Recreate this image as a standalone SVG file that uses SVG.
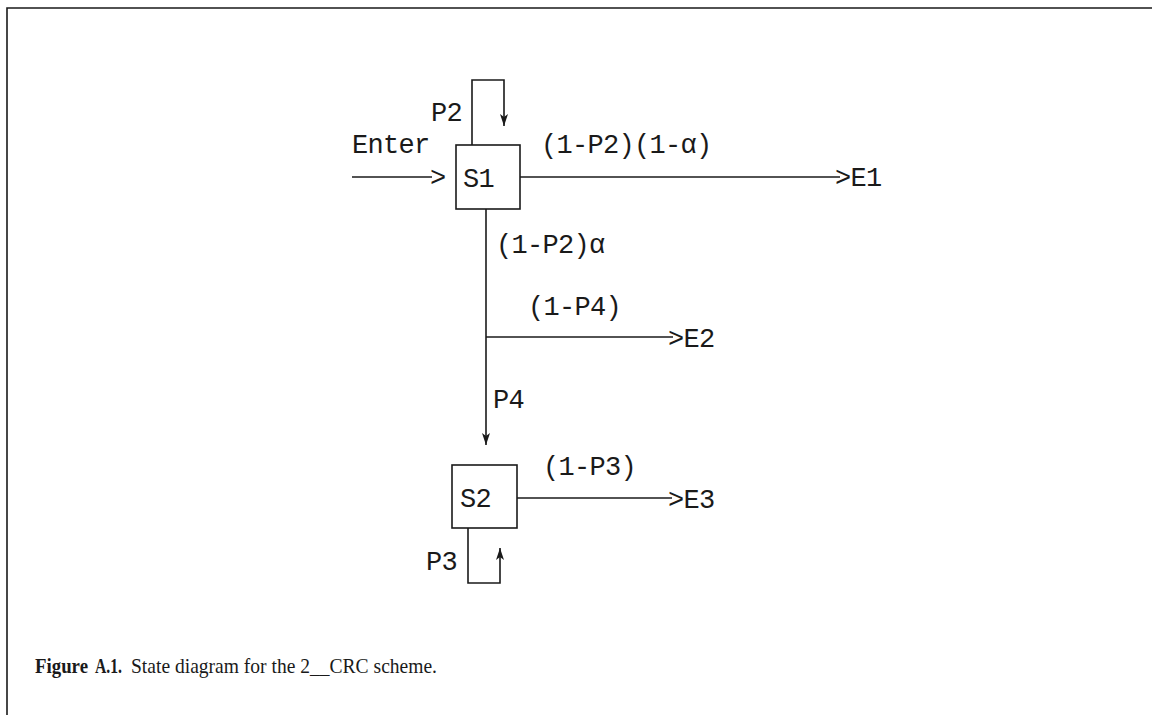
<svg xmlns="http://www.w3.org/2000/svg" width="1152" height="715" viewBox="0 0 1152 715">
<style>
.ln{fill:none;stroke:#1a1a1a;stroke-width:1.6}
.m{font-family:"Liberation Mono","DejaVu Sans Mono",monospace;font-size:27px;letter-spacing:-0.7px;fill:#1a1a1a}
.cap{font-family:"Liberation Serif","DejaVu Serif",serif;font-size:22px;fill:#1a1a1a}
</style>
<defs>
<marker id="ah" viewBox="0 0 12 10" refX="12" refY="5" markerWidth="12" markerHeight="10" markerUnits="userSpaceOnUse" orient="auto">
<path d="M0,1 L12,5 L0,9 L3,5 Z" fill="#1a1a1a"/>
</marker>
</defs>
<rect width="1152" height="715" fill="#fff"/>
<path class="ln" d="M7,715 V8 H1152"/>
<g id="S1">
<rect class="ln" x="456" y="145" width="64" height="64"/>
<text class="m" x="463" y="187">S1</text>
</g>
<g id="S2">
<rect class="ln" x="452" y="465" width="65" height="63"/>
<text class="m" x="460" y="507">S2</text>
</g>
<g id="E1"><text class="m" x="835" y="186">&gt;E1</text></g>
<g id="E2"><text class="m" x="668" y="347">&gt;E2</text></g>
<g id="E3"><text class="m" x="668" y="508">&gt;E3</text></g>
<g id="connectors">
<path class="ln" d="M352,177 H432"/>
<text class="m" x="430" y="186">&gt;</text>
<text class="m" x="352" y="153">Enter</text>
<path class="ln" d="M472,145 V80 H504 V126" marker-end="url(#ah)"/>
<text class="m" x="431" y="121">P2</text>
<path class="ln" d="M520,177 H840"/>
<text class="m" x="541" y="153">(1-P2)(1-α)</text>
<path class="ln" d="M486,209 V445" marker-end="url(#ah)"/>
<text class="m" x="496" y="253">(1-P2)α</text>
<path class="ln" d="M486,337 H673"/>
<text class="m" x="528" y="315">(1-P4)</text>
<text class="m" x="493" y="408">P4</text>
<path class="ln" d="M517,498 H672"/>
<text class="m" x="543" y="475">(1-P3)</text>
<path class="ln" d="M468,528 V583 H500 V548" marker-end="url(#ah)"/>
<text class="m" x="426" y="570">P3</text>
</g>
<text class="cap" x="35" y="673" font-weight="bold" textLength="53" lengthAdjust="spacingAndGlyphs">Figure</text>
<text class="cap" x="95" y="673" font-weight="bold" textLength="27" lengthAdjust="spacingAndGlyphs">A.1.</text>
<text class="cap" x="131" y="673" textLength="306" lengthAdjust="spacingAndGlyphs">State diagram for the 2__CRC scheme.</text>
</svg>
